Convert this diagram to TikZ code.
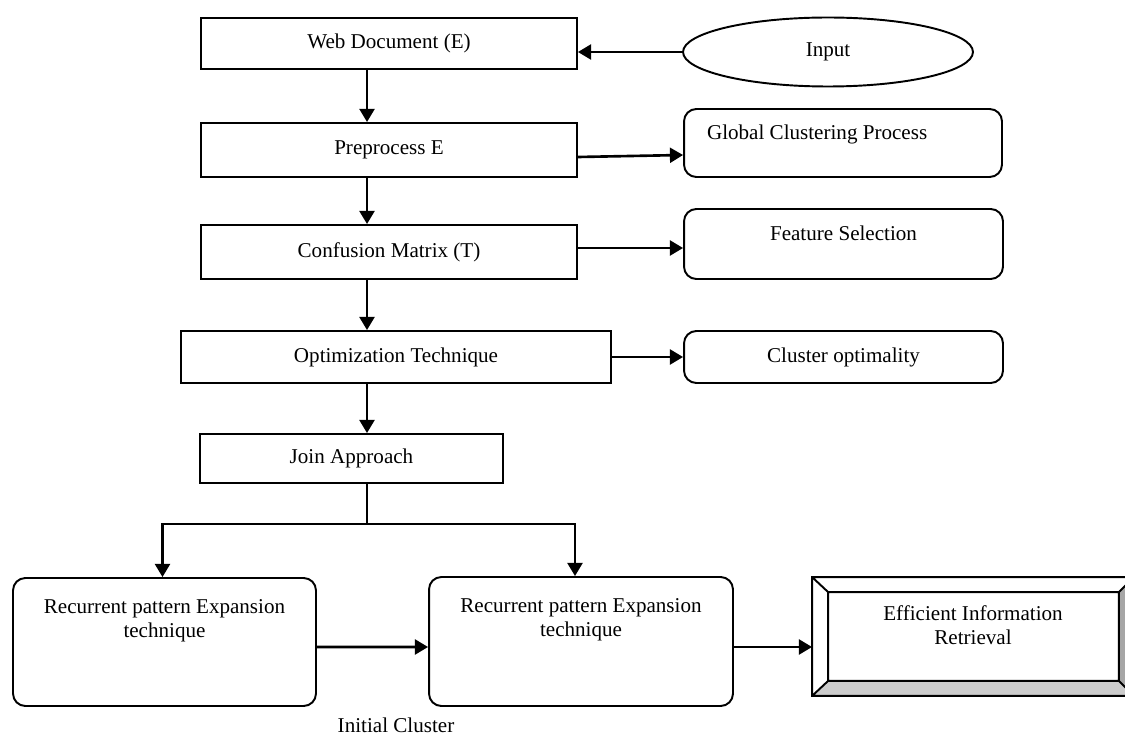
\documentclass[tikz,border=0pt]{standalone}
\usepackage{fontspec}
\setmainfont{Liberation Serif}
\usepackage{tikz}
\usetikzlibrary{positioning, arrows.meta, shapes.geometric, calc}

\begin{document}
\begin{tikzpicture}[
    x=0.02cm, y=-0.02cm,
    box/.style={rectangle, draw, line width=1.1pt, align=center, inner sep=0pt,
                font=\fontsize{12pt}{13.6pt}\selectfont},
    rbox/.style={box, rounded corners=7pt},
    bevel/.style={box, draw=none},
    arr/.style={-{Triangle[length=7.5pt, width=8.5pt]}, line width=1.5pt}
]
\path[use as bounding box, clip] (0,0) rectangle (1125,736);
\coordinate (spine) at (367,0);
\coordinate (split) at (367,524);
% main column
\node[box, minimum width=75.2mm, minimum height=10.2mm] (web)  at (389,43.5) {Web Document (E)};
\node[box, minimum width=75.2mm, minimum height=10.8mm] (pre)  at (389,150) {Preprocess E};
\node[box, minimum width=75.2mm, minimum height=10.8mm] (conf) at (389,252) {Confusion Matrix (T)};
\node[box, minimum width=86mm, minimum height=10.4mm]   (opt)  at (396,357) {Optimization Technique};
\node[box, minimum width=60.6mm, minimum height=9.8mm]  (join) at (351.5,458.5) {Join Approach};
% right column
\node[box, ellipse, minimum width=58mm, minimum height=13.8mm] (input) at (828,52) {Input};
\node[rbox, minimum width=63.6mm, minimum height=13.6mm, text width=54.4mm, inner xsep=4.6mm,
      align=flush left, text height=2.9mm, text depth=4.1mm] (glob) at (843,143) {Global Clustering Process};
\node[rbox, minimum width=63.8mm, minimum height=14mm, text height=2.9mm, text depth=4.1mm] (feat) at (843.5,244) {Feature Selection};
\node[rbox, minimum width=63.8mm, minimum height=10.4mm] (cluopt) at (843.5,357) {Cluster optimality};
% bottom row
\node[rbox, minimum width=60.6mm, minimum height=25.6mm, text height=7.7mm, text depth=9.7mm] (rec1) at (164.5,642) {Recurrent pattern Expansion\\ technique};
\node[rbox, minimum width=60.8mm, minimum height=25.8mm, text height=7.7mm, text depth=9.7mm] (rec2) at (581,641.5) {Recurrent pattern Expansion\\ technique};
\node[bevel, minimum width=64mm, minimum height=23.4mm, text height=7.7mm, text depth=4.7mm] (eir) at (973,636.5) {Efficient Information\\ Retrieval};
\node[font=\fontsize{12pt}{13.6pt}\selectfont, inner sep=0pt] (init) at (396,725) {Initial Cluster};
% bevelled frame
\fill[black!35] (eir.north east) -- ($(eir.north east)+(-15,15)$) -- ($(eir.south east)+(-15,-15)$) -- (eir.south east) -- cycle;
\fill[black!20] (eir.south west) -- ($(eir.south west)+(16,-15)$) -- ($(eir.south east)+(-15,-15)$) -- (eir.south east) -- cycle;
\draw[line width=1.1pt] (eir.north west) rectangle (eir.south east)
    ($(eir.north west)+(16,15)$) rectangle ($(eir.south east)+(-15,-15)$)
    (eir.north west) -- ++(16,15) (eir.south west) -- ++(16,-15)
    (eir.north east) -- ++(-15,15) (eir.south east) -- ++(-15,-15);
% connectors
\draw[arr] (input.west) -- (input.west -| web.east);
\draw[arr] (web.south -| spine) -- (pre.north -| spine);
\draw[arr] (pre.south -| spine) -- (conf.north -| spine);
\draw[arr] (conf.south -| spine) -- (opt.north -| spine);
\draw[arr] (opt.south -| spine) -- (join.north -| spine);
\draw[arr] ($(pre.east)+(0,7)$) -- ($(glob.west)+(0,12)$);
\draw[arr] ($(conf.east)+(0,-4)$) -- ($(feat.west)+(0,4)$);
\draw[arr] (opt.east) -- (cluopt.west);
\draw[line width=1.5pt] (join.south -| split) -- (split);
\draw[arr] (split) -| ($(rec1.north)+(-2,0)$);
\draw[arr] (split) -| ($(rec2.north)+(-6,0)$);
\draw[arr] ($(rec1.east)+(0,5)$) -- ($(rec2.west)+(0,5.5)$);
\draw[arr] ($(rec2.east)+(0,5.5)$) -- ($(eir.west)+(0,10.5)$);
\end{tikzpicture}
\end{document}
